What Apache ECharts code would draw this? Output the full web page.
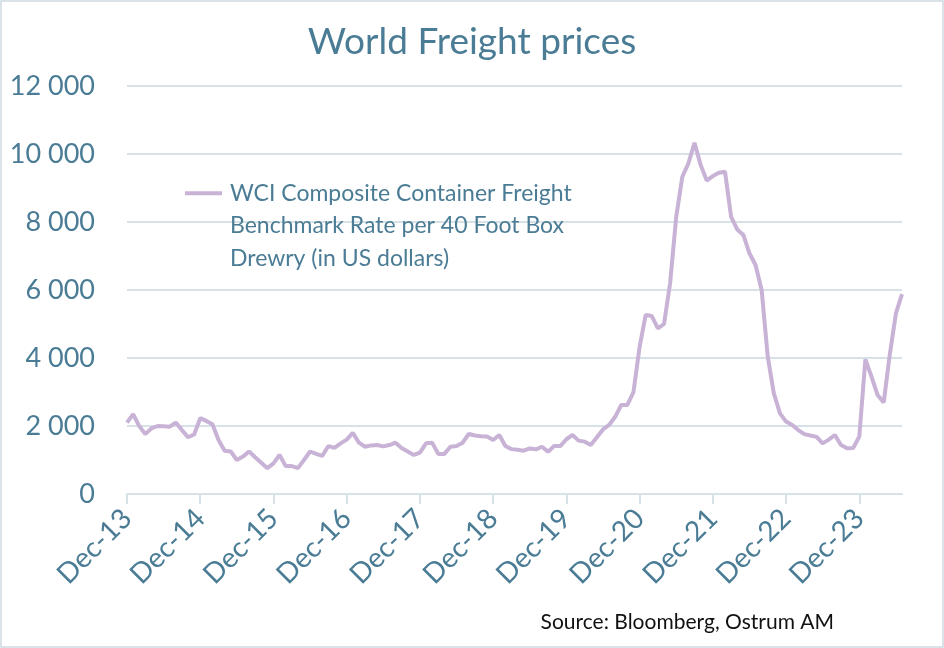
<!DOCTYPE html>
<html>
<head>
<meta charset="utf-8">
<script src="https://cdn.jsdelivr.net/npm/echarts@6/dist/echarts.min.js"></script>
<style>
html,body{margin:0;padding:0;background:#fff;}
#chart{width:944px;height:648px;}
</style>
</head>
<body>
<div id="chart"></div>
<script>
const months = (function(){
  const names = ['Jan','Feb','Mar','Apr','May','Jun','Jul','Aug','Sep','Oct','Nov','Dec'];
  const out = ['Dec-13'];
  for (let y = 14; y <= 24; y++) {
    for (let m = 0; m < 12; m++) {
      if (y === 24 && m > 6) break;
      out.push(names[m] + '-' + y);
    }
  }
  return out;
})();

const wciValues = [
  2100,
  2350, 2000, 1760, 1930, 2000, 1990, 1980, 2100, 1880, 1670, 1750, 2230,
  2150, 2050, 1590, 1270, 1250, 1000, 1100, 1250, 1080, 920, 760, 900,
  1150, 820, 820, 760, 1000, 1250, 1180, 1120, 1410, 1360, 1490, 1600,
  1800, 1510, 1390, 1430, 1440, 1400, 1440, 1510, 1350, 1250, 1150, 1220,
  1490, 1510, 1180, 1180, 1390, 1410, 1510, 1765, 1720, 1700, 1690, 1590,
  1735, 1410, 1320, 1300, 1275, 1340, 1315, 1390, 1245, 1410, 1410, 1610,
  1735, 1570, 1540, 1440, 1670, 1900, 2030, 2270, 2620, 2620, 3000, 4330,
  5265, 5235, 4870, 5000, 6200, 8150, 9330, 9725, 10330, 9680, 9220, 9350,
  9450, 9480, 8150, 7780, 7620, 7080, 6735, 6000, 4040, 2960, 2370, 2130,
  2030, 1880, 1760, 1720, 1680, 1490, 1600, 1735, 1440, 1345, 1350, 1690,
  3960, 3450, 2910, 2690, 4100, 5310, 5880
];

const seriesName = 'WCI Composite Container Freight Benchmark Rate per 40 Foot Box Drewry (in US dollars)';
const legendLines = ['WCI Composite Container Freight', 'Benchmark Rate per 40 Foot Box', 'Drewry (in US dollars)'];
const titleText = 'World Freight prices';
const sourceText = 'Source: Bloomberg, Ostrum AM';

const textColor = '#4b7c95';
const gridColor = '#d6e2e7';
const lineColor = '#c8b2d6';
const fontFam = 'Lato, "Open Sans", sans-serif';

const chart = echarts.init(document.getElementById('chart'), null, {renderer: 'canvas'});
chart.setOption({
  animation: false,
  backgroundColor: '#fff',
  title: {
    text: titleText,
    left: 'center',
    top: 19,
    textStyle: {color: textColor, fontSize: 37, fontWeight: 'normal', fontFamily: fontFam}
  },
  legend: {
    left: 185,
    top: 112,
    padding: 0,
    icon: 'rect',
    itemWidth: 37,
    itemHeight: 4,
    itemGap: 0,
    formatter: function(){ return '\n\n' + legendLines.join('\n'); },
    textStyle: {color: textColor, fontSize: 23, fontFamily: fontFam, lineHeight: 32.5, padding: [0, 0, 0, 3]},
    data: [seriesName]
  },
  graphic: [
    {type: 'rect', shape: {x: 1, y: 1, width: 942, height: 646}, style: {fill: 'none', stroke: '#d9e3e8', lineWidth: 2}, silent: true},
    {type: 'text', right: 110, top: 612, style: {text: sourceText, fill: '#111', fontSize: 21, fontFamily: fontFam}}
  ],
  grid: {left: 127, right: 42, top: 86, bottom: 154, containLabel: false},
  xAxis: {
    type: 'category',
    data: months,
    boundaryGap: false,
    axisLine: {lineStyle: {color: gridColor, width: 2}},
    axisTick: {show: true, length: 10, lineStyle: {color: gridColor, width: 2}, interval: function(i){ return i % 12 === 0; }},
    axisLabel: {
      interval: function(i){ return i % 12 === 0; },
      rotate: 45,
      margin: 20,
      color: textColor,
      fontSize: 28,
      fontFamily: fontFam
    },
    splitLine: {show: false}
  },
  yAxis: {
    type: 'value',
    min: 0,
    max: 12000,
    interval: 2000,
    axisLine: {show: false},
    axisTick: {show: false},
    axisLabel: {
      margin: 32,
      color: textColor,
      fontSize: 27,
      fontFamily: fontFam,
      formatter: function(v){ return String(v).replace(/\B(?=(\d{3})+(?!\d))/g, ' '); }
    },
    splitLine: {lineStyle: {color: gridColor, width: 2}}
  },
  series: [{
    name: seriesName,
    type: 'line',
    data: wciValues,
    symbol: 'none',
    lineStyle: {color: lineColor, width: 4},
    itemStyle: {color: lineColor}
  }]
});
</script>
</body>
</html>
